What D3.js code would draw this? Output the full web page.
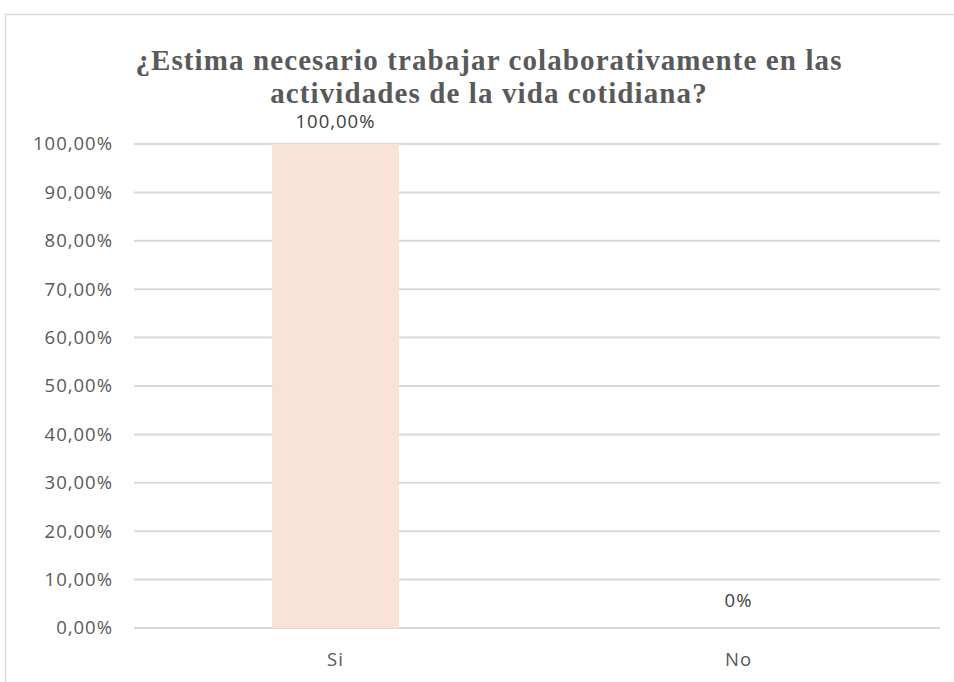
<!DOCTYPE html>
<html lang="es">
<head>
<meta charset="utf-8">
<title>Trabajo colaborativo</title>
<script src="https://cdn.jsdelivr.net/npm/d3@7"></script>
<style>
  body { margin: 0; background: #fff; }
  svg { display: block; }
</style>
</head>
<body>
<script>
// data
var categories = ["Si", "No"];
var values = [1.0, 0.0];
var valueLabels = ["100,00%", "0%"];
var tickValues = [0, 0.1, 0.2, 0.3, 0.4, 0.5, 0.6, 0.7, 0.8, 0.9, 1.0];
var titleLines = ["¿Estima necesario trabajar colaborativamente en las", "actividades de la vida cotidiana?"];

var width = 954, height = 682;
var margin = {top: 144, right: 14, bottom: 54, left: 134};
var labelFont = "'Open Sans', 'Liberation Sans', sans-serif";

var svg = d3.select("body").append("svg")
  .attr("width", width)
  .attr("height", height);

// chart area frame
svg.append("rect")
  .attr("x", 5.5).attr("y", 14.5)
  .attr("width", 1000).attr("height", 800)
  .attr("fill", "#fff")
  .attr("stroke", "#d9d9d9")
  .attr("stroke-width", 1.5);

var x = d3.scaleBand()
  .domain(categories)
  .range([margin.left, width - margin.right])
  .padding(0);

var y = d3.scaleLinear()
  .domain([0, 1])
  .range([height - margin.bottom, margin.top]);

var fmt = function(d) { return d3.format(".2f")(d * 100).replace(".", ",") + "%"; };

// grid lines
svg.append("g")
  .selectAll("line")
  .data(tickValues)
  .enter().append("line")
  .attr("x1", margin.left)
  .attr("x2", width - margin.right)
  .attr("y1", function(d) { return y(d); })
  .attr("y2", function(d) { return y(d); })
  .attr("stroke", "#d9d9d9")
  .attr("stroke-width", 2);

// y axis labels
var yAxis = d3.axisLeft(y).tickValues(tickValues).tickFormat(fmt).tickSize(0).tickPadding(21);
var gy = svg.append("g")
  .attr("transform", "translate(" + margin.left + ",0)")
  .call(yAxis);
gy.select(".domain").remove();
gy.selectAll("text")
  .attr("fill", "#595959")
  .style("font-family", labelFont)
  .style("font-size", "18.5px")
  .style("letter-spacing", "1px");

// bars
var barFrac = 0.315;
svg.append("g")
  .selectAll("rect")
  .data(values)
  .enter().append("rect")
  .attr("x", function(d, i) { return x(categories[i]) + x.bandwidth() * (1 - barFrac) / 2; })
  .attr("width", x.bandwidth() * barFrac)
  .attr("y", function(d) { return y(d); })
  .attr("height", function(d) { return y(0) - y(d); })
  .attr("fill", "#f9e3d6");

// value labels
svg.append("g")
  .selectAll("text")
  .data(values)
  .enter().append("text")
  .attr("x", function(d, i) { return x(categories[i]) + x.bandwidth() / 2; })
  .attr("y", function(d) { return d > 0 ? y(d) - 16 : y(d) - 21; })
  .attr("text-anchor", "middle")
  .attr("fill", "#404040")
  .style("font-family", labelFont)
  .style("font-size", "18.5px")
  .style("letter-spacing", "1px")
  .text(function(d, i) { return valueLabels[i]; });

// x axis labels
var xAxis = d3.axisBottom(x).tickSize(0).tickPadding(25);
var gx = svg.append("g")
  .attr("transform", "translate(0," + y(0) + ")")
  .call(xAxis);
gx.select(".domain").remove();
gx.selectAll("text")
  .attr("fill", "#595959")
  .style("font-family", labelFont)
  .style("font-size", "18.5px")
  .style("letter-spacing", "1px");

// title
svg.append("g")
  .selectAll("text")
  .data(titleLines)
  .enter().append("text")
  .attr("x", 489)
  .attr("y", function(d, i) { return 70 + i * 33; })
  .attr("text-anchor", "middle")
  .attr("fill", "#595959")
  .style("font-family", "'Liberation Serif', 'Times New Roman', serif")
  .style("font-weight", "bold")
  .style("font-size", "29px")
  .style("letter-spacing", "1.1px")
  .text(function(d) { return d; });
</script>
</body>
</html>
